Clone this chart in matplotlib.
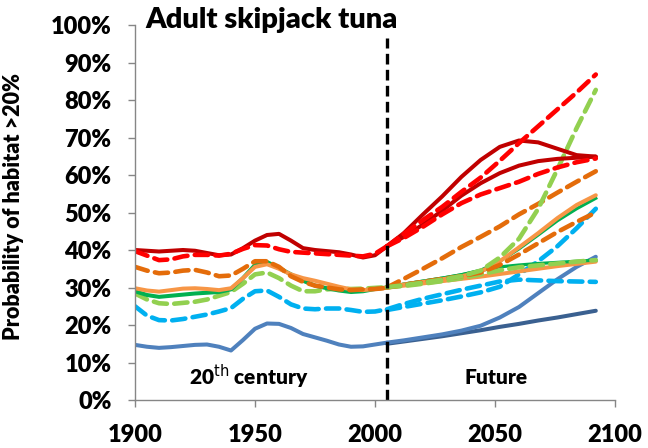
import matplotlib
matplotlib.use("Agg")
import matplotlib.pyplot as plt
from matplotlib.ticker import FuncFormatter

plt.rcParams['font.family'] = ['Lato', 'DejaVu Sans']

# ---------------- data ----------------
hist_years = [1900, 1905, 1910, 1915, 1920, 1925, 1930, 1935, 1940, 1945, 1950,
              1955, 1960, 1965, 1970, 1975, 1980, 1985, 1990, 1995, 2000, 2005]
hist_red_solid = [40.0, 39.8, 39.6, 39.8, 40.0, 39.8, 39.2, 38.6, 38.8, 40.5, 42.5,
                  44.0, 44.3, 42.5, 40.5, 40.0, 39.7, 39.4, 38.8, 38.0, 38.6, 41.0]
hist_red_dash = [39.7, 38.5, 37.3, 37.5, 38.3, 38.7, 38.7, 38.5, 39.0, 40.3, 41.3,
                 41.2, 40.2, 39.5, 39.3, 39.1, 38.9, 38.7, 38.5, 38.3, 39.0, 41.0]
hist_orange_dash = [35.5, 34.5, 33.8, 34.0, 34.5, 34.7, 34.0, 33.0, 33.2, 35.0, 37.0,
                    37.0, 35.5, 33.0, 31.5, 30.5, 30.0, 29.5, 29.3, 29.5, 29.6, 29.9]
hist_orange_solid = [29.8, 29.2, 28.9, 29.3, 29.7, 29.8, 29.6, 29.3, 29.8, 32.5, 35.5,
                     36.2, 35.0, 33.5, 32.5, 31.8, 31.0, 30.2, 29.5, 29.3, 29.6, 30.0]
hist_green = [29.0, 28.0, 27.5, 27.8, 28.1, 28.4, 28.6, 28.8, 29.5, 32.5, 36.0,
              36.8, 35.2, 33.5, 31.8, 30.5, 29.8, 29.2, 28.8, 29.0, 29.6, 30.0]
hist_lgreen_dash = [28.4, 26.8, 25.8, 25.6, 25.9, 26.2, 26.8, 27.8, 28.8, 31.0, 33.5,
                    34.0, 32.5, 30.5, 29.0, 29.0, 29.5, 29.7, 29.6, 29.7, 29.9, 30.1]
hist_cyan_dash = [25.0, 22.5, 21.3, 21.2, 21.6, 22.2, 22.8, 23.6, 24.5, 27.0, 29.0,
                  29.2, 27.5, 25.5, 24.4, 24.2, 24.4, 24.4, 24.0, 23.5, 23.6, 24.2]
hist_blue = [14.7, 14.2, 13.9, 14.1, 14.4, 14.7, 14.8, 14.2, 13.2, 16.0, 19.0,
             20.4, 20.3, 19.2, 17.6, 16.7, 15.8, 14.8, 14.2, 14.3, 14.8, 15.3]

fut_years = [2005, 2012, 2020, 2028, 2036, 2044, 2052, 2060, 2068, 2076, 2084, 2092]
fut_red_solid_a = [41.0, 44.5, 49.5, 54.3, 59.5, 64.0, 67.5, 69.2, 68.7, 67.0, 65.3, 64.9]
fut_red_solid_b = [41.0, 43.5, 46.8, 50.5, 54.5, 57.8, 60.5, 62.5, 63.7, 64.3, 64.6, 64.9]
fut_red_dash_a = [41.0, 44.3, 48.0, 51.5, 55.5, 59.3, 63.8, 68.5, 73.0, 77.5, 82.0, 86.8]
fut_red_dash_b = [41.0, 43.2, 46.2, 49.5, 52.5, 54.8, 56.5, 58.2, 60.3, 62.0, 63.4, 64.4]
fut_orange_dash_a = [30.0, 32.3, 35.0, 37.8, 40.8, 43.5, 46.3, 49.5, 52.3, 55.3, 58.2, 61.0]
fut_orange_dash_b = [30.0, 30.7, 31.5, 32.3, 33.0, 34.0, 36.0, 38.8, 41.8, 44.8, 47.5, 50.0]
fut_orange_solid_a = [30.0, 30.8, 31.5, 32.2, 33.0, 34.2, 37.0, 40.7, 44.5, 48.5, 52.0, 54.6]
fut_orange_solid_b = [30.0, 30.5, 31.1, 31.7, 32.3, 32.9, 33.6, 34.3, 35.0, 35.7, 36.3, 36.9]
fut_green_a = [30.0, 30.9, 31.7, 32.5, 33.4, 34.6, 37.0, 40.3, 44.0, 47.8, 51.0, 53.8]
fut_green_b = [30.0, 30.9, 31.7, 32.5, 33.4, 34.5, 35.5, 36.0, 36.4, 36.7, 37.0, 37.3]
fut_lgreen_dash_a = [30.1, 30.6, 31.3, 32.1, 33.0, 34.5, 38.0, 43.0, 51.0, 61.5, 72.5, 82.7]
fut_lgreen_dash_b = [30.1, 30.4, 31.0, 31.7, 32.5, 33.5, 34.6, 35.4, 35.9, 36.4, 36.9, 37.3]
fut_cyan_dash_a = [24.0, 24.8, 25.7, 26.6, 27.6, 28.7, 30.2, 33.5, 37.0, 41.0, 45.8, 51.0]
fut_cyan_dash_b = [24.2, 25.6, 27.0, 28.2, 29.4, 30.5, 31.6, 32.1, 31.9, 31.7, 31.6, 31.5]
fut_blue_light = [15.3, 15.9, 16.7, 17.5, 18.5, 19.8, 22.0, 24.8, 28.5, 32.2, 35.5, 38.2]
fut_blue_dark = [15.0, 15.6, 16.3, 17.0, 17.8, 18.6, 19.5, 20.3, 21.2, 22.0, 22.9, 23.8]

x_ticks = [1900, 1950, 2000, 2050, 2100]
y_ticks = [0, 10, 20, 30, 40, 50, 60, 70, 80, 90, 100]
split_year = 2005

# ---------------- styles ----------------
C_DRED = '#C00000'
C_RED = '#FF0000'
C_ORD = '#E46C0A'
C_ORS = '#F79646'
C_GRN = '#00B050'
C_LGR = '#92D050'
C_CYA = '#00B0F0'
C_BLU = '#4F81BD'
C_DBL = '#3A6090'

SOL = dict(lw=2.9, solid_capstyle='round', solid_joinstyle='round')
DSH = dict(lw=3.3, dashes=(2.9, 1.6), dash_capstyle='round')

fig = plt.figure(figsize=(6.48, 4.48), dpi=100)
ax = fig.add_axes([135/648, 1-400/448, 480/648, 375/448])

# historical
ax.plot(hist_years, hist_blue, color=C_BLU, **SOL)
ax.plot(hist_years, hist_cyan_dash, color=C_CYA, **DSH)
ax.plot(hist_years, hist_lgreen_dash, color=C_LGR, **DSH)
ax.plot(hist_years, hist_green, color=C_GRN, **SOL)
ax.plot(hist_years, hist_orange_solid, color=C_ORS, **SOL)
ax.plot(hist_years, hist_orange_dash, color=C_ORD, **DSH)
ax.plot(hist_years, hist_red_solid, color=C_DRED, **SOL)
ax.plot(hist_years, hist_red_dash, color=C_RED, **DSH)

# future
ax.plot(fut_years, fut_blue_dark, color=C_DBL, **SOL)
ax.plot(fut_years, fut_blue_light, color=C_BLU, **SOL)
ax.plot(fut_years, fut_cyan_dash_b, color=C_CYA, **DSH)
ax.plot(fut_years, fut_cyan_dash_a, color=C_CYA, **DSH)
ax.plot(fut_years, fut_orange_solid_b, color=C_ORS, **SOL)
ax.plot(fut_years, fut_green_b, color=C_GRN, lw=2.3)
ax.plot(fut_years, fut_lgreen_dash_b, color=C_LGR, **DSH)
ax.plot(fut_years, fut_green_a, color=C_GRN, lw=2.3)
ax.plot(fut_years, fut_orange_solid_a, color=C_ORS, **SOL)
ax.plot(fut_years, fut_orange_dash_b, color=C_ORD, **DSH)
ax.plot(fut_years, fut_orange_dash_a, color=C_ORD, **DSH)
ax.plot(fut_years, fut_lgreen_dash_a, color=C_LGR, **DSH)
ax.plot(fut_years, fut_red_solid_b, color=C_DRED, **SOL)
ax.plot(fut_years, fut_red_solid_a, color=C_DRED, **SOL)
ax.plot(fut_years, fut_red_dash_b, color=C_RED, **DSH)
ax.plot(fut_years, fut_red_dash_a, color=C_RED, **DSH)

# split line
ax.plot([split_year, split_year], [0, 96.5], color='black', lw=2.4, dashes=(3.2, 1.6))

ax.set_xlim(1900, 2100)
ax.set_ylim(0, 100)
ax.set_xticks(x_ticks)
ax.set_yticks(y_ticks)
ax.yaxis.set_major_formatter(FuncFormatter(lambda v, p: f"{int(v)}%"))

for s in ['top', 'right']:
    ax.spines[s].set_visible(False)
for s in ['left', 'bottom']:
    ax.spines[s].set_color('#868686')
    ax.spines[s].set_linewidth(1.0)
ax.tick_params(axis='both', direction='out', color='#868686', length=5, width=1.0,
               labelsize=17, pad=12)
for lab in ax.get_xticklabels() + ax.get_yticklabels():
    lab.set_fontweight('heavy')

ax.set_ylabel('Probability of habitat >20%', fontsize=15.5, fontweight='heavy')
ax.yaxis.set_label_coords(-0.232, 0.515)

ax.text(1947.5, 6.1, '20$^{\\mathrm{th}}$ century', ha='center', va='center',
        fontsize=15, fontweight='heavy')
ax.text(2050.5, 6.1, 'Future', ha='center', va='center', fontsize=15, fontweight='heavy')

fig.text(145/648, 1-20/448, 'Adult skipjack tuna', ha='left', va='center',
         fontsize=21, fontweight='heavy')

fig.savefig('out.png', dpi=100)
